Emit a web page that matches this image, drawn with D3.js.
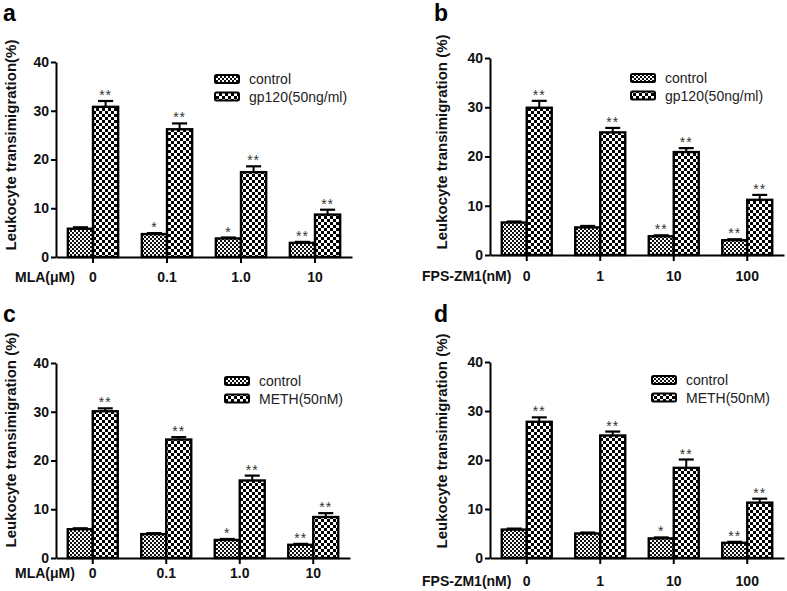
<!DOCTYPE html>
<html>
<head>
<meta charset="utf-8">
<script src="https://cdn.jsdelivr.net/npm/d3@7"></script>
<style>
  html, body { margin: 0; padding: 0; background: #fff; }
  svg { display: block; font-family: "Liberation Sans", Arial, sans-serif; }
</style>
</head>
<body>
<svg id="chart" width="787" height="591"></svg>
<script>
// ---------- DATA ----------
const categoriesMLA = ["0", "0.1", "1.0", "10"];
const categoriesFPS = ["0", "1", "10", "100"];
const yTickValues = [0, 10, 20, 30, 40];

const seriesGp120 = ["control", "gp120(50ng/ml)"];
const seriesMeth = ["control", "METH(50nM)"];

// Panel a: MLA + gp120
const aControl = [5.8, 4.7, 3.8, 2.9];
const aControlErr = [0.3, 0.2, 0.2, 0.2];
const aTreat = [30.8, 26.2, 17.4, 8.7];
const aTreatErr = [1.2, 1.2, 1.2, 1.0];
const aControlSig = ["", "*", "*", "**"];
const aTreatSig = ["**", "**", "**", "**"];

// Panel b: FPS-ZM1 + gp120
const bControl = [6.6, 5.6, 3.8, 3.0];
const bControlErr = [0.2, 0.3, 0.2, 0.2];
const bTreat = [29.9, 24.9, 20.9, 11.2];
const bTreatErr = [1.4, 0.9, 0.8, 1.0];
const bControlSig = ["", "", "**", "**"];
const bTreatSig = ["**", "**", "**", "**"];

// Panel c: MLA + METH
const cControl = [5.9, 4.9, 3.7, 2.7];
const cControlErr = [0.2, 0.2, 0.2, 0.2];
const cTreat = [30.1, 24.3, 15.9, 8.4];
const cTreatErr = [0.6, 0.5, 1.0, 0.8];
const cControlSig = ["", "", "*", "**"];
const cTreatSig = ["**", "**", "**", "**"];

// Panel d: FPS-ZM1 + METH
const dControl = [5.8, 5.0, 4.0, 3.1];
const dControlErr = [0.2, 0.2, 0.2, 0.2];
const dTreat = [27.8, 25.0, 18.4, 11.3];
const dTreatErr = [0.9, 0.8, 1.7, 0.8];
const dControlSig = ["", "", "*", "**"];
const dTreatSig = ["**", "**", "**", "**"];

// ---------- PANELS (data references) ----------
const panels = [
  { letter: "a", cats: categoriesMLA, xTitle: "MLA(\u03bcM)", yTitle: "Leukocyte transimigration(%)", names: seriesGp120,
    vals: [aControl, aTreat], errs: [aControlErr, aTreatErr], sigs: [aControlSig, aTreatSig] },
  { letter: "b", cats: categoriesFPS, xTitle: "FPS-ZM1(nM)", yTitle: "Leukocyte transimigration (%)", names: seriesGp120,
    vals: [bControl, bTreat], errs: [bControlErr, bTreatErr], sigs: [bControlSig, bTreatSig] },
  { letter: "c", cats: categoriesMLA, xTitle: "MLA(\u03bcM)", yTitle: "Leukocyte transimigration (%)", names: seriesMeth,
    vals: [cControl, cTreat], errs: [cControlErr, cTreatErr], sigs: [cControlSig, cTreatSig] },
  { letter: "d", cats: categoriesFPS, xTitle: "FPS-ZM1(nM)", yTitle: "Leukocyte transimigration (%)", names: seriesMeth,
    vals: [dControl, dTreat], errs: [dControlErr, dTreatErr], sigs: [dControlSig, dTreatSig] }
];

// ---------- LAYOUT ----------
const layouts = [
  { ax: 56,  xr: 352, y0: 257, y40: 62,  letterX: 3,   letterY: 21,  yTitleX: 10,  yTitleY: 145, xLabPad: 9,  xTitleX: 15,  legX: 215, legY: 79 },
  { ax: 490, xr: 784, y0: 255, y40: 58,  letterX: 434, letterY: 21,  yTitleX: 441, yTitleY: 142, xLabPad: 10, xTitleX: 422, legX: 631, legY: 78 },
  { ax: 56,  xr: 350, y0: 558, y40: 363, letterX: 3,   letterY: 322, yTitleX: 10,  yTitleY: 440, xLabPad: 4,  xTitleX: 15,  legX: 225, legY: 381 },
  { ax: 490, xr: 784, y0: 558, y40: 362, letterX: 434, letterY: 322, yTitleX: 441, yTitleY: 441, xLabPad: 12, xTitleX: 422, legX: 652, legY: 380 }
];

const svg = d3.select("#chart");
const defs = svg.append("defs");

// fine checker (control)
const pc = defs.append("pattern").attr("id", "pCtrl").attr("patternUnits", "userSpaceOnUse")
  .attr("width", 4).attr("height", 4);
pc.append("rect").attr("width", 4).attr("height", 4).attr("fill", "#fff");
pc.append("rect").attr("width", 2).attr("height", 2).attr("fill", "#111");
pc.append("rect").attr("x", 2).attr("y", 2).attr("width", 2).attr("height", 2).attr("fill", "#111");

// coarse checker (treatment)
const pt = defs.append("pattern").attr("id", "pTreat").attr("patternUnits", "userSpaceOnUse")
  .attr("width", 6).attr("height", 6);
pt.append("rect").attr("width", 6).attr("height", 6).attr("fill", "#fff");
pt.append("rect").attr("width", 3).attr("height", 3).attr("fill", "#000");
pt.append("rect").attr("x", 3).attr("y", 3).attr("width", 3).attr("height", 3).attr("fill", "#000");

const fills = ["url(#pCtrl)", "url(#pTreat)"];

panels.forEach((p, pi) => {
  const L = layouts[pi];
  const g = svg.append("g");

  const y = d3.scaleLinear().domain([0, 40]).range([L.y0, L.y40]);
  const x0 = d3.scaleBand().domain(p.cats).range([L.ax, L.xr]).paddingInner(0.32).paddingOuter(0.16);
  const x1 = d3.scaleBand().domain([0, 1]).range([0, x0.bandwidth()]);

  // bars
  p.cats.forEach((c, ci) => {
    [0, 1].forEach(si => {
      const v = p.vals[si][ci];
      const e = p.errs[si][ci];
      const bx = x0(c) + x1(si);
      const bw = x1.bandwidth();
      const cx = bx + bw / 2;
      // error bar (upper only)
      const capW = bw * 0.6;
      g.append("line").attr("x1", cx).attr("x2", cx).attr("y1", y(v)).attr("y2", y(v + e))
        .attr("stroke", "#000").attr("stroke-width", 2);
      g.append("line").attr("x1", cx - capW / 2).attr("x2", cx + capW / 2).attr("y1", y(v + e)).attr("y2", y(v + e))
        .attr("stroke", "#000").attr("stroke-width", 2.2);
      g.append("rect").attr("x", bx).attr("y", y(v)).attr("width", bw).attr("height", y(0) - y(v))
        .attr("fill", fills[si]).attr("stroke", "#000").attr("stroke-width", 2.4);
      const s = p.sigs[si][ci];
      if (s) {
        g.append("text").attr("x", cx).attr("y", y(v + e) - 1)
          .attr("text-anchor", "middle").attr("font-size", 14).attr("letter-spacing", 1)
          .attr("fill", "#333").text(s);
      }
    });
  });

  // y axis
  const yAxis = d3.axisLeft(y).tickValues(yTickValues).tickSize(5).tickSizeOuter(0).tickPadding(2);
  const ya = g.append("g").attr("transform", `translate(${L.ax},0)`).call(yAxis);
  ya.select(".domain").attr("stroke", "#000").attr("stroke-width", 2);
  ya.selectAll(".tick line").attr("stroke", "#000").attr("stroke-width", 2);
  ya.selectAll(".tick text").attr("font-size", 14).attr("font-weight", "bold").attr("fill", "#111")
    .attr("font-family", "Liberation Sans, Arial, sans-serif");

  // x axis
  const xAxis = d3.axisBottom(x0).tickSize(6).tickSizeOuter(0).tickPadding(L.xLabPad);
  const xa = g.append("g").attr("transform", `translate(0,${L.y0})`).call(xAxis);
  xa.select(".domain").attr("stroke", "#000").attr("stroke-width", 2);
  xa.selectAll(".tick line").attr("stroke", "#000").attr("stroke-width", 2);
  xa.selectAll(".tick text").attr("font-size", 14).attr("font-weight", "bold").attr("fill", "#111")
    .attr("font-family", "Liberation Sans, Arial, sans-serif");

  // x title (left of tick labels, same row)
  g.append("text").attr("x", L.xTitleX).attr("y", L.y0 + 6 + L.xLabPad).attr("dy", "0.71em")
    .attr("font-size", 14).attr("font-weight", "bold").attr("fill", "#111").text(p.xTitle);

  // y title
  g.append("text").attr("transform", `translate(${L.yTitleX},${L.yTitleY}) rotate(-90)`)
    .attr("text-anchor", "middle").attr("dominant-baseline", "central")
    .attr("font-size", 15).attr("font-weight", "bold").attr("fill", "#111").text(p.yTitle);

  // panel letter
  g.append("text").attr("x", L.letterX).attr("y", L.letterY)
    .attr("font-size", 23).attr("font-weight", "bold").attr("fill", "#000").text(p.letter);

  // legend
  p.names.forEach((n, i) => {
    const ly = L.legY + i * 17.5;
    g.append("rect").attr("x", L.legX).attr("y", ly - 4).attr("width", 24).attr("height", 8)
      .attr("rx", 1.5).attr("fill", fills[i]).attr("stroke", "#000").attr("stroke-width", 2);
    g.append("text").attr("x", L.legX + 34).attr("y", ly).attr("dominant-baseline", "central")
      .attr("font-size", 14).attr("fill", "#222").text(n);
  });
});
</script>
</body>
</html>
